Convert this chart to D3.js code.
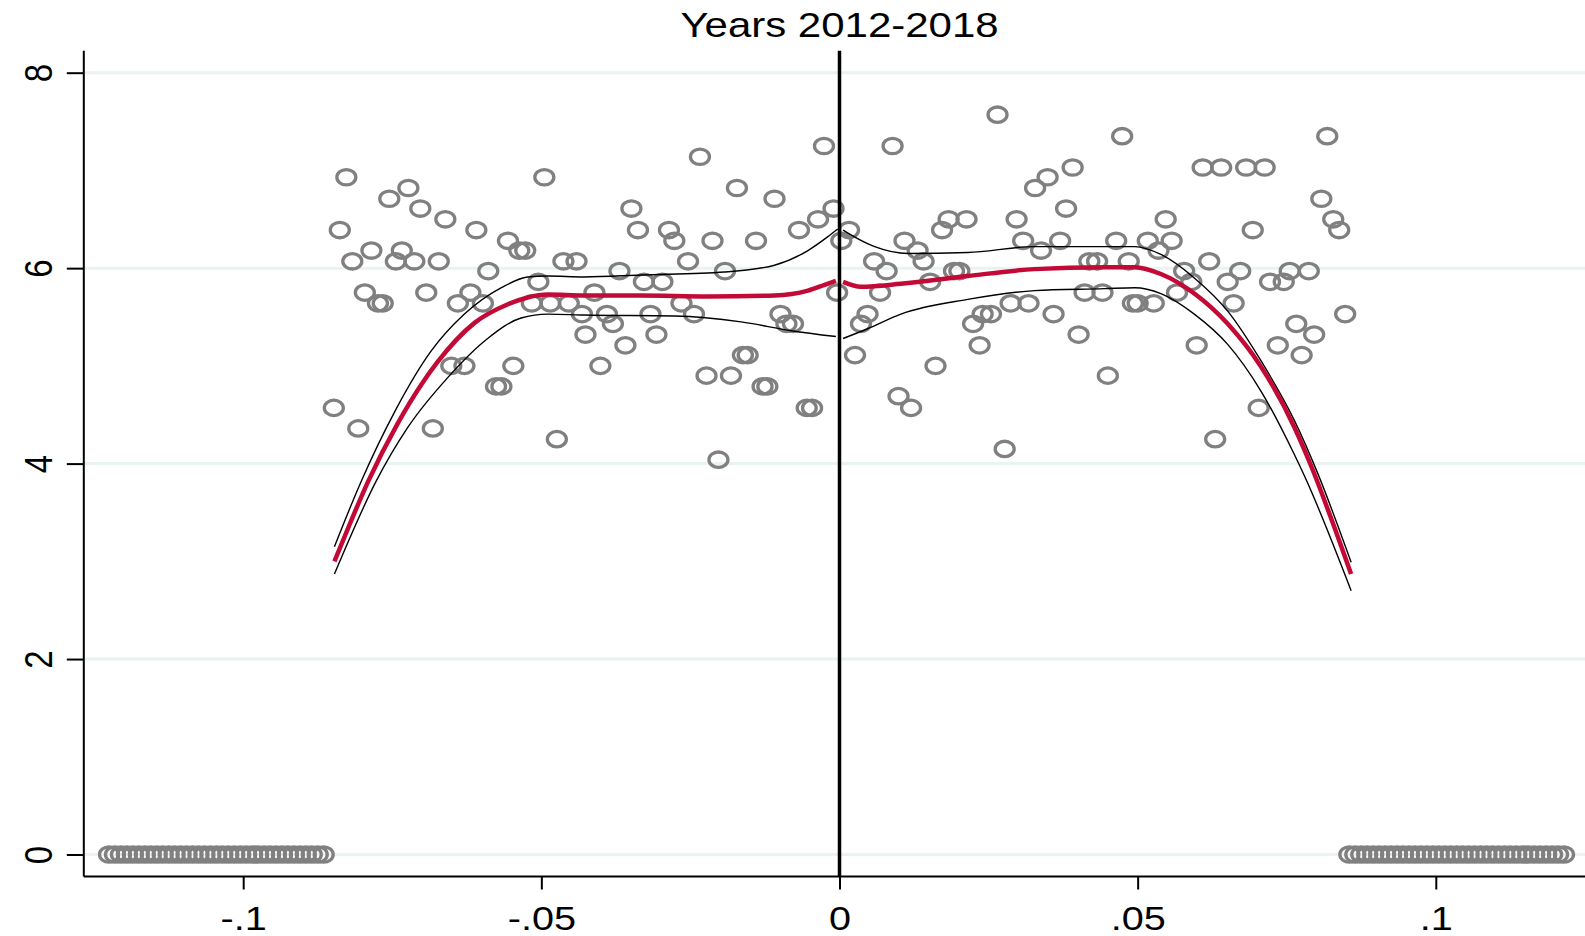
<!DOCTYPE html>
<html><head><meta charset="utf-8">
<script src="https://cdn.jsdelivr.net/npm/d3@7"></script>
<style>
html,body{margin:0;padding:0;background:#fff;}
svg{display:block;font-family:"Liberation Sans",Arial,Helvetica,sans-serif;}
</style>
</head><body>
<svg id="chart" width="1585" height="936"></svg>
<script>
// ---------- DATA ----------
const titleText = "Years 2012-2018";
const xTickValues = [-0.1, -0.05, 0, 0.05, 0.1];
const xTickLabels = ["-.1", "-.05", "0", ".05", ".1"];
const yTickValues = [0, 2, 4, 6, 8];
const yTickLabels = ["0", "2", "4", "6", "8"];

// binned scatter, left of cutoff
const leftX = [-0.0848,-0.0838,-0.0827,-0.0817,-0.0807,-0.0796,-0.0785,-0.0774,-0.0766,-0.0755,
  -0.0744,-0.0734,-0.0723,-0.0713,-0.0703,-0.0693,-0.0682,-0.0672,-0.0661,-0.0651,
  -0.0640,-0.0629,-0.0619,-0.0609,-0.0598,-0.0589,-0.0576,-0.0567,-0.0556,-0.0547,
  -0.0537,-0.0527,-0.0516,-0.0505,-0.0495,-0.0485,-0.0474,-0.0463,-0.0454,-0.0441,
  -0.0432,-0.0426,-0.0411,-0.0401,-0.0390,-0.0380,-0.0369,-0.0359,-0.0349,-0.0338,
  -0.0328,-0.0317,-0.0307,-0.0297,-0.0286,-0.0277,-0.0265,-0.0254,-0.0244,-0.0234,
  -0.0223,-0.0213,-0.0203,-0.0192,-0.0182,-0.0172,-0.0162,-0.0154,-0.0140,-0.0129,
  -0.0121,-0.0109,-0.0099,-0.0089,-0.0078,-0.0068,-0.0055,-0.0046,-0.0036,-0.0026,
  -0.0010,-0.0004];
const leftY = [4.57,6.39,6.93,6.07,4.36,5.75,6.18,5.64,5.64,6.71,
  6.07,6.18,6.82,6.07,6.61,5.75,4.36,6.07,6.50,5.00,
  5.64,5.00,5.75,6.39,5.64,5.97,4.79,4.79,6.28,5.00,
  6.18,6.18,5.64,5.86,6.93,5.64,4.25,6.07,5.64,6.07,
  5.53,5.32,5.75,5.00,5.53,5.43,5.97,5.21,6.61,6.39,
  5.86,5.53,5.32,5.86,6.39,6.28,5.64,6.07,5.53,7.14,
  4.90,6.28,4.04,5.97,4.90,6.82,5.11,5.11,6.28,4.79,
  4.79,6.71,5.53,5.43,5.43,6.39,4.57,4.57,6.50,7.25,
  6.61,5.75];

// binned scatter, right of cutoff
const rightX = [0.0003,0.0016,0.0026,0.0036,0.0047,0.0058,0.0068,0.0079,0.0089,0.0099,
  0.0109,0.0120,0.0131,0.0141,0.0152,0.0161,0.0172,0.0183,0.0192,0.0201,
  0.0213,0.0224,0.0235,0.0240,0.0254,0.0265,0.0277,0.0287,0.0297,0.0308,
  0.0317,0.0328,0.0338,0.0349,0.0359,0.0370,0.0380,0.0391,0.0401,0.0411,
  0.0419,0.0432,0.0441,0.0450,0.0464,0.0474,0.0485,0.0492,0.0500,0.0517,
  0.0527,0.0535,0.0547,0.0557,0.0566,0.0578,0.0590,0.0599,0.0609,0.0620,
  0.0630,0.0640,0.0651,0.0661,0.0672,0.0682,0.0693,0.0703,0.0713,0.0722,
  0.0735,0.0745,0.0755,0.0766,0.0775,0.0787,0.0796,0.0808,0.0818,0.0828,
  0.0838,0.0848];
const rightY = [6.28,6.39,5.11,5.43,5.53,6.07,5.75,5.97,7.25,4.69,
  6.28,4.57,6.18,6.07,5.86,5.00,6.39,6.50,5.97,5.97,
  6.50,5.43,5.21,5.53,5.53,7.57,4.15,5.64,6.50,6.28,
  5.64,6.82,6.18,6.93,5.53,6.28,6.61,7.03,5.32,5.75,
  6.07,6.07,5.75,4.90,6.28,7.35,6.07,5.64,5.64,6.28,
  5.64,6.18,6.50,6.28,5.75,5.97,5.86,5.21,7.03,6.07,
  4.25,7.03,5.86,5.64,5.97,7.03,6.39,4.57,7.03,5.86,
  5.21,5.86,5.97,5.43,5.11,5.97,5.32,6.71,7.35,6.50,
  6.39,5.53];

// bins outside the bandwidth (value 0)
const zeroLeftX = [-0.1225,-0.1215,-0.1205,-0.1195,-0.1185,-0.1175,-0.1165,-0.1155,-0.1145,-0.1135,
  -0.1125,-0.1115,-0.1105,-0.1095,-0.1085,-0.1075,-0.1065,-0.1055,-0.1045,-0.1035,
  -0.1025,-0.1015,-0.1005,-0.0995,-0.0985,-0.0975,-0.0965,-0.0955,-0.0945,-0.0935,
  -0.0925,-0.0915,-0.0905,-0.0895,-0.0885,-0.0875,-0.0865];
const zeroRightX = [0.0855,0.0865,0.0875,0.0885,0.0895,0.0905,0.0915,0.0925,0.0935,0.0945,
  0.0955,0.0965,0.0975,0.0985,0.0995,0.1005,0.1015,0.1025,0.1035,0.1045,
  0.1055,0.1065,0.1075,0.1085,0.1095,0.1105,0.1115,0.1125,0.1135,0.1145,
  0.1155,0.1165,0.1175,0.1185,0.1195,0.1205,0.1215];
const zeroValue = 0;

// local polynomial fit (left)
const fitLeftX = [-0.0847,-0.0820,-0.0791,-0.0741,-0.0700,-0.0674,-0.0612,-0.0556,-0.0523,-0.0489,-0.0428,-0.0333,-0.0221,-0.0109,-0.0053,-0.0025,-0.0006];
const fitLeftY = [3.00,3.40,3.81,4.41,4.82,5.04,5.44,5.63,5.70,5.73,5.72,5.72,5.71,5.72,5.77,5.83,5.87];
const ciLeftHiX = [-0.0847,-0.0802,-0.0746,-0.0685,-0.0629,-0.0567,-0.0523,-0.0489,-0.0428,-0.0333,-0.0193,-0.0109,-0.0053,-0.0020,-0.0003];
const ciLeftHiY = [3.15,3.82,4.53,5.15,5.53,5.80,5.91,5.92,5.91,5.93,5.96,6.03,6.18,6.32,6.40];
const ciLeftLoX = [-0.0847,-0.0777,-0.0724,-0.0657,-0.0590,-0.0534,-0.0489,-0.0428,-0.0277,-0.0165,-0.0081,-0.0006];
const ciLeftLoY = [2.87,3.82,4.37,4.88,5.28,5.49,5.53,5.52,5.51,5.45,5.36,5.30];

// local polynomial fit (right)
const fitRightX = [0.0006,0.0036,0.0103,0.0215,0.0327,0.0444,0.0495,0.0539,0.0595,0.0651,0.0707,0.0763,0.0792,0.0831,0.0858];
const fitRightY = [5.86,5.81,5.84,5.92,5.99,6.01,6.01,5.94,5.74,5.43,4.99,4.37,3.96,3.33,2.87];
const ciRightHiX = [0.0006,0.0025,0.0059,0.0115,0.0215,0.0327,0.0444,0.0495,0.0539,0.0595,0.0651,0.0707,0.0763,0.0802,0.0858];
const ciRightHiY = [6.39,6.32,6.22,6.15,6.16,6.22,6.22,6.22,6.14,5.90,5.56,5.05,4.44,3.90,2.99];
const ciRightLoX = [0.0006,0.0047,0.0103,0.0215,0.0327,0.0444,0.0495,0.0539,0.0595,0.0651,0.0707,0.0763,0.0780,0.0858];
const ciRightLoY = [5.28,5.38,5.53,5.68,5.77,5.79,5.80,5.74,5.53,5.22,4.74,4.09,3.87,2.70];

const cutoff = 0;

// ---------- DRAW ----------
const svg = d3.select("#chart");
const plot = {left: 83.8, right: 1585, top: 50.7, bottom: 876.5};
const S = 1.2; // horizontal text stretch

const x = d3.scaleLinear().domain([-0.12673, 0.12502]).range([plot.left, plot.right]);
const y = d3.scaleLinear().domain([-0.225, 8.225]).range([plot.bottom, plot.top]);

const zip = (a, b) => a.map((v, i) => [v, b[i]]);

// gridlines
svg.append("g").selectAll("line").data(yTickValues).join("line")
  .attr("x1", plot.left).attr("x2", plot.right)
  .attr("y1", d => y(d)).attr("y2", d => y(d))
  .attr("stroke", "#eaf2f3").attr("stroke-width", 3);

// scatter
const markers = svg.append("g").attr("fill", "none").attr("stroke", "#808080").attr("stroke-width", 3.3);
const allPts = zip(zeroLeftX, zeroLeftX.map(() => zeroValue))
  .concat(zip(leftX, leftY))
  .concat(zip(rightX, rightY))
  .concat(zip(zeroRightX, zeroRightX.map(() => zeroValue)));
markers.selectAll("ellipse").data(allPts).join("ellipse")
  .attr("cx", d => x(d[0])).attr("cy", d => y(d[1]))
  .attr("rx", 9.5).attr("ry", 7.7);

// fit lines
const line = d3.line().x(d => x(d[0])).y(d => y(d[1])).curve(d3.curveMonotoneX);
const lg = svg.append("g").attr("fill", "none");
[[ciLeftHiX, ciLeftHiY], [ciLeftLoX, ciLeftLoY], [ciRightHiX, ciRightHiY], [ciRightLoX, ciRightLoY]].forEach(([a, b]) => {
  lg.append("path").attr("d", line(zip(a, b))).attr("stroke", "#000").attr("stroke-width", 1.4);
});
[[fitLeftX, fitLeftY], [fitRightX, fitRightY]].forEach(([a, b]) => {
  lg.append("path").attr("d", line(zip(a, b))).attr("stroke", "#c30a37").attr("stroke-width", 4.5)
    .attr("stroke-linejoin", "round");
});

// cutoff line
svg.append("line")
  .attr("x1", x(cutoff)).attr("x2", x(cutoff))
  .attr("y1", plot.top).attr("y2", plot.bottom)
  .attr("stroke", "#000").attr("stroke-width", 3.5);

// axes
const yAxis = d3.axisLeft(y).tickValues(yTickValues).tickFormat((d, i) => yTickLabels[i]).tickSize(17).tickPadding(0);
const gy = svg.append("g").attr("transform", `translate(${plot.left},0)`).call(yAxis);
gy.select(".domain").attr("d", `M0,${plot.top}V${plot.bottom}`).attr("stroke-width", 2);
gy.selectAll(".tick line").attr("stroke-width", 2);
gy.selectAll(".tick text").remove();
gy.selectAll(".tick").append("text")
  .attr("transform", `translate(-32,0) scale(${S},1) rotate(-90)`)
  .attr("text-anchor", "middle").attr("fill", "#000")
  .style("font-size", "33px").style("font-family", '"Liberation Sans",Arial,sans-serif')
  .text((d, i) => yTickLabels[i]);

const xAxis = d3.axisBottom(x).tickValues(xTickValues).tickFormat((d, i) => xTickLabels[i]).tickSize(13).tickPadding(0);
const gx = svg.append("g").attr("transform", `translate(0,${plot.bottom})`).call(xAxis);
gx.select(".domain").attr("d", `M${plot.left},0H${plot.right}`).attr("stroke-width", 2);
gx.selectAll(".tick line").attr("stroke-width", 2);
gx.selectAll(".tick text").remove();
gx.selectAll(".tick").append("text")
  .attr("transform", `translate(0,53.5) scale(${S},1)`)
  .attr("text-anchor", "middle").attr("fill", "#000")
  .style("font-size", "33px").style("font-family", '"Liberation Sans",Arial,sans-serif')
  .text((d, i) => xTickLabels[i]);

// title
svg.append("text")
  .attr("transform", `translate(${x(cutoff)},37) scale(${S},1)`)
  .attr("text-anchor", "middle").attr("fill", "#000")
  .style("font-size", "35px")
  .text(titleText);
</script>
</body></html>
